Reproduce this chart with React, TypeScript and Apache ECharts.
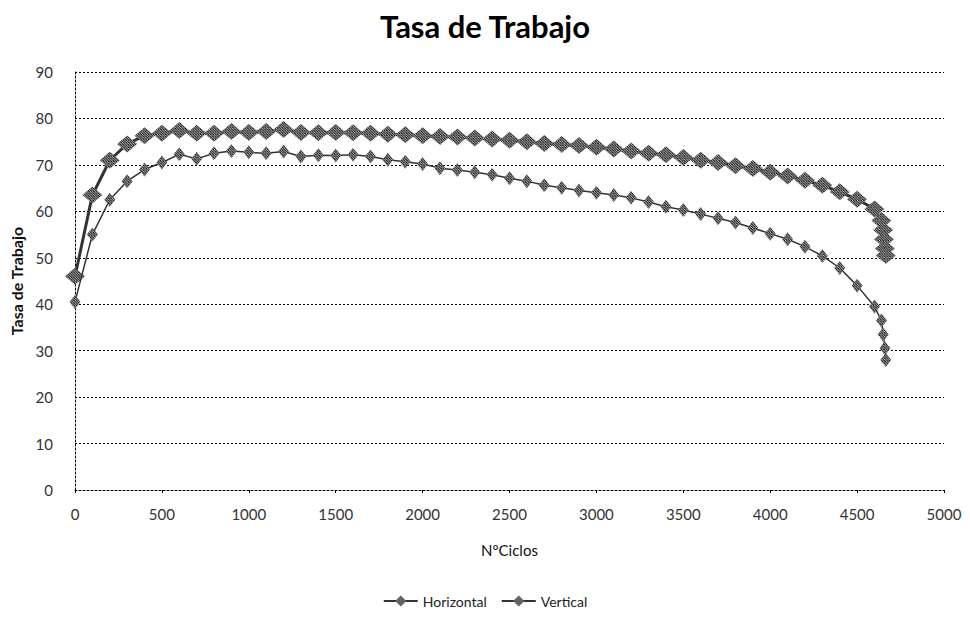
import React, { useEffect, useRef } from "react";
import * as echarts from "echarts";

const TITLE = "Tasa de Trabajo";
const X_NAME = "NºCiclos";
const Y_NAME = "Tasa de Trabajo";
const SERIES_NAMES = ["Horizontal", "Vertical"];

const horizontalX = [0, 100, 200, 300, 400, 500, 600, 700, 800, 900, 1000, 1100, 1200, 1300, 1400, 1500, 1600, 1700, 1800, 1900, 2000, 2100, 2200, 2300, 2400, 2500, 2600, 2700, 2800, 2900, 3000, 3100, 3200, 3300, 3400, 3500, 3600, 3700, 3800, 3900, 4000, 4100, 4200, 4300, 4400, 4500, 4600, 4640, 4650, 4660, 4665];
const horizontalY = [40.5, 55, 62.5, 66.5, 69, 70.5, 72.3, 71.3, 72.5, 73, 72.7, 72.5, 72.9, 71.8, 72.1, 72, 72.2, 71.8, 71.1, 70.7, 70.2, 69.3, 68.9, 68.4, 67.9, 67.1, 66.5, 65.6, 65.1, 64.5, 64, 63.5, 62.9, 62, 61, 60.3, 59.4, 58.5, 57.6, 56.4, 55.2, 54, 52.4, 50.4, 47.8, 44, 39.5, 36.5, 33.5, 30.5, 28];

const verticalX = [0, 100, 200, 300, 400, 500, 600, 700, 800, 900, 1000, 1100, 1200, 1300, 1400, 1500, 1600, 1700, 1800, 1900, 2000, 2100, 2200, 2300, 2400, 2500, 2600, 2700, 2800, 2900, 3000, 3100, 3200, 3300, 3400, 3500, 3600, 3700, 3800, 3900, 4000, 4100, 4200, 4300, 4400, 4500, 4600, 4640, 4650, 4655, 4660, 4665];
const verticalY = [46, 63.5, 71, 74.5, 76.3, 76.8, 77.4, 76.8, 76.8, 77.2, 77, 77.2, 77.6, 77, 76.9, 77, 76.9, 76.8, 76.6, 76.5, 76.3, 76.1, 76, 75.8, 75.6, 75.3, 75, 74.6, 74.4, 74.2, 73.8, 73.4, 73, 72.5, 72.2, 71.6, 71, 70.5, 69.8, 69.2, 68.4, 67.6, 66.7, 65.6, 64.2, 62.6, 60.5, 58, 56, 54, 52, 50.5];

const X_MIN = 0, X_MAX = 5000, X_STEP = 500;
const Y_MIN = 0, Y_MAX = 90, Y_STEP = 10;

function makeHatch(): HTMLCanvasElement {
  const c = document.createElement("canvas");
  c.width = 5;
  c.height = 5;
  const ctx = c.getContext("2d")!;
  ctx.fillStyle = "#ffffff";
  ctx.fillRect(0, 0, 5, 5);
  ctx.fillStyle = "#000000";
  for (let y = 0; y < 5; y++) {
    for (let x = 0; x < 5; x++) {
      const d = (((x - y) % 5) + 5) % 5;
      if (d <= 2) ctx.fillRect(x, y, 1, 1);
    }
  }
  return c;
}

export default function App() {
  const ref = useRef<HTMLDivElement>(null);
  useEffect(() => {
    if (!ref.current) return;
    const chart = echarts.init(ref.current, undefined, { renderer: "svg" });
    const img = makeHatch();
    const hSize = [11, 14];
    const vSize = [20, 17];
    const hatchH = { image: img, repeat: "repeat", scaleX: 1 / hSize[0], scaleY: 1 / hSize[1] } as any;
    const hatchV = { image: img, repeat: "repeat", scaleX: 1 / vSize[0], scaleY: 1 / vSize[1] } as any;
    const font = "Lato, 'Open Sans', sans-serif";
    const hData = horizontalX.map((x, i) => [x, horizontalY[i]]);
    const vData = verticalX.map((x, i) => [x, verticalY[i]]);
    chart.setOption({
      animation: false,
      backgroundColor: "#ffffff",
      textStyle: { fontFamily: font },
      title: {
        text: TITLE,
        left: "center",
        top: 5,
        textStyle: { fontFamily: font, fontSize: 31, fontWeight: "bold", color: "#000" },
      },
      legend: {
        bottom: 6,
        left: "center",
        itemWidth: 34,
        itemHeight: 14,
        itemGap: 14,
        textStyle: { fontFamily: font, fontSize: 14, color: "#222" },
        data: SERIES_NAMES,
      },
      grid: { left: 75, right: 26, top: 72, bottom: 129, containLabel: false },
      xAxis: {
        type: "value",
        min: X_MIN,
        max: X_MAX,
        interval: X_STEP,
        name: X_NAME,
        nameLocation: "middle",
        nameGap: 52,
        nameTextStyle: { fontFamily: font, fontSize: 15, color: "#111" },
        axisLine: { show: true, lineStyle: { color: "#000", type: [2, 2], width: 1 } },
        axisTick: { show: true, length: 3, inside: false, lineStyle: { color: "#000" } },
        axisLabel: {
          margin: 16,
          fontSize: 15,
          color: "#333",
          fontFamily: font,
          formatter: (v: number) => String(v),
        },
        splitLine: { show: false },
      },
      yAxis: {
        type: "value",
        min: Y_MIN,
        max: Y_MAX,
        interval: Y_STEP,
        name: Y_NAME,
        nameLocation: "middle",
        nameGap: 50,
        nameTextStyle: { fontFamily: font, fontSize: 16, fontWeight: "bold", color: "#111" },
        axisLine: { show: true, lineStyle: { color: "#000", type: [2, 2], width: 1 } },
        axisTick: { show: false },
        axisLabel: {
          margin: 22,
          fontSize: 15,
          color: "#333",
          fontFamily: font,
          formatter: (v: number) => String(v),
        },
        splitLine: { show: true, lineStyle: { color: "#000", type: [2, 2], width: 1 } },
      },
      series: [
        {
          name: SERIES_NAMES[0],
          type: "line",
          data: hData,
          symbol: "diamond",
          symbolSize: hSize,
          showSymbol: true,
          lineStyle: { color: "#333", width: 1.5 },
          itemStyle: { color: hatchH, borderWidth: 0 },
          z: 3,
        },
        {
          name: SERIES_NAMES[1],
          type: "line",
          data: vData,
          symbol: "diamond",
          symbolSize: vSize,
          showSymbol: true,
          lineStyle: { color: "#333", width: 3 },
          itemStyle: { color: hatchV, borderWidth: 0 },
          z: 2,
        },
      ],
    });
    return () => chart.dispose();
  }, []);
  return (
    <div
      ref={ref}
      style={{ position: "fixed", left: 0, top: 0, width: 970, height: 619, background: "#fff" }}
    />
  );
}
